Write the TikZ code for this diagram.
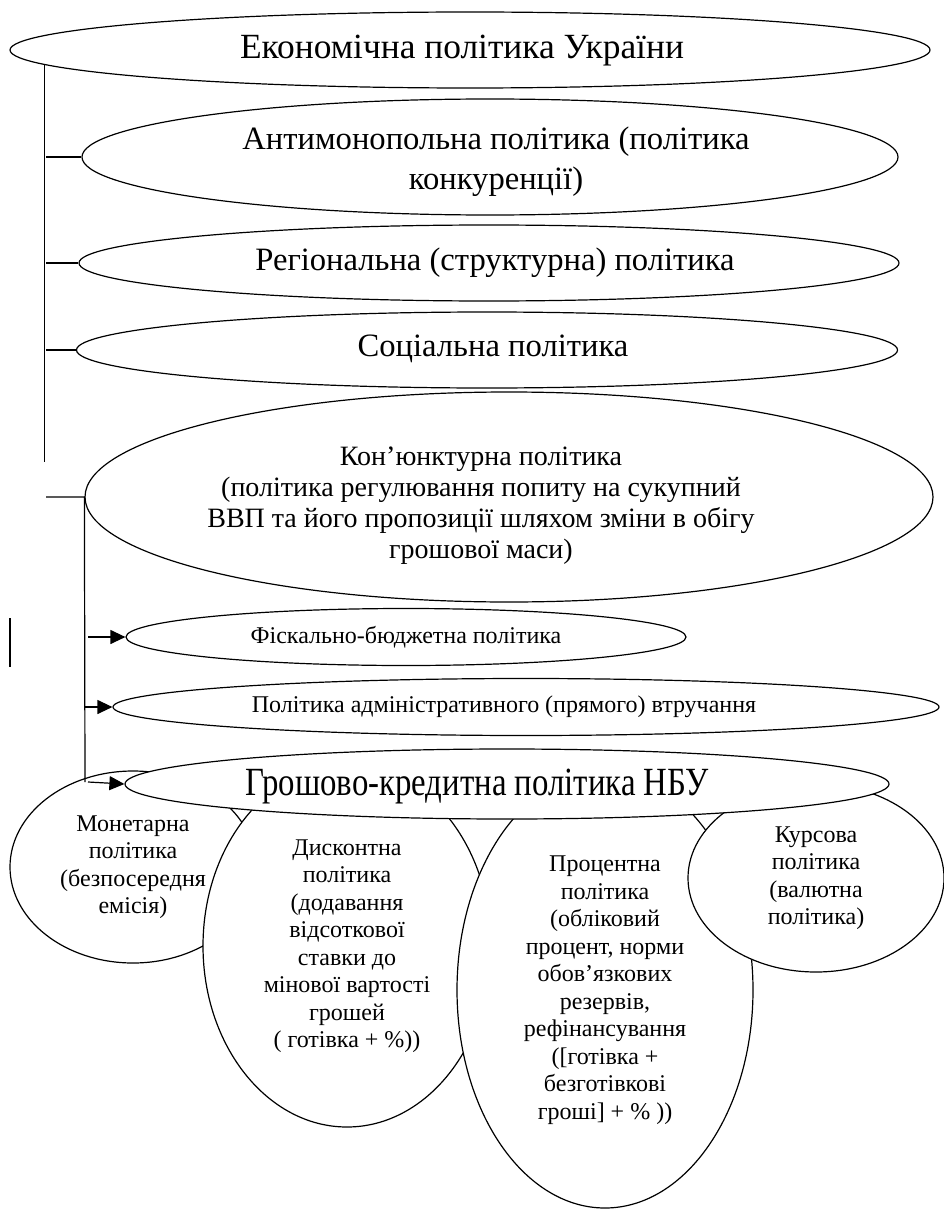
\documentclass[tikz,border=0pt]{standalone}
\usepackage{fontspec}
\setmainfont{Liberation Serif}
\newfontfamily\narrowserif{Liberation Serif}[FakeStretch=0.82]
\usetikzlibrary{shapes.geometric,arrows.meta}

\tikzset{
	oval/.style={ellipse, draw, fill=white, line width=1.2pt, inner sep=0pt, align=center},
	txt/.style={inner sep=0pt, align=center},
	stem/.style={line width=1.2pt},
	arr/.style={line width=1.2pt, -{Triangle[length=15pt,width=14pt]}},
	big/.style={font=\fontsize{32.6}{40}\selectfont},
	mid/.style={font=\fontsize{28}{31}\selectfont},
	small/.style={font=\fontsize{24}{27.5}\selectfont}
}

\begin{document}
\begin{tikzpicture}[x=1pt,y=-1pt]
		\useasboundingbox (0,0) rectangle (944,1209);

		% Punkte
		\coordinate (t1) at (46,462);
		\coordinate (t2) at (85,782);

		% Ellipsen
		\node[oval, minimum width=920pt, minimum height=76pt] (econ) at (470,50) {};
		\node[txt, font=\fontsize{35.4}{40}\selectfont] (econtext) at (462,51) {Економічна політика України};
		\node[oval, minimum width=816pt, minimum height=116pt] (anti) at (490,157) {};
		\node[txt, big] (antitext) at (496,162) {Антимонопольна політика (політика\\конкуренції)};
		\node[oval, minimum width=820pt, minimum height=76pt] (region) at (489,263) {};
		\node[txt, big] (regiontext) at (495,263) {Регіональна (структурна) політика};
		\node[oval, minimum width=821pt, minimum height=76pt] (social) at (487,350) {};
		\node[txt, big] (socialtext) at (493,349) {Соціальна політика};
		\node[oval, minimum width=848pt, minimum height=210pt] (kon) at (509,497) {};
		\node[txt, mid] (kontext) at (481,506) {Кон’юнктурна політика\\(політика регулювання попиту на сукупний\\ВВП та його пропозиції шляхом зміни в обігу\\грошової маси)};
		\node[oval, small, minimum width=560pt, minimum height=57pt] (fisk) at (406,637) {Фіскально-бюджетна політика};
		\node[oval, minimum width=826pt, minimum height=57pt] (admin) at (526,707) {};
		\node[txt, small] (admintext) at (504,707) {Політика адміністративного (прямого) втручання};

		% Methoden
		\node[oval, small, minimum width=246pt, minimum height=192pt] (monet) at (133,867) {Монетарна\\політика\\(безпосередня\\емісія)};
		\node[oval, small, minimum width=288pt, minimum height=362pt] (disc) at (347,946) {Дисконтна\\політика\\(додавання\\відсоткової\\ставки до\\мінової вартості\\грошей\\( готівка + \%))};
		\node[oval, small, minimum width=296pt, minimum height=436pt] (perc) at (605,990) {Процентна\\політика\\(обліковий\\процент, норми\\обов’язкових\\резервів,\\рефінансування\\([готівка +\\безготівкові\\гроші] + \% ))};
		\node[oval, small, minimum width=256pt, minimum height=188pt] (kurs) at (816,878) {Курсова\\політика\\(валютна\\політика)};
		\node[oval, minimum width=764pt, minimum height=70pt] (nbu) at (507,784) {};
		\node[txt, font=\narrowserif\fontsize{40}{44}\selectfont] (nbutext) at (477,787) {Грошово-кредитна політика НБУ};

		% Linien
		\draw[stem] (econ.182) -- (econ.182 |- t1);
		\draw[stem] (anti.west -| t1) -- (anti.west);
		\draw[stem] (region.west -| t1) -- (region.west);
		\draw[stem] (social.west -| t1) -- (social.west);
		\draw[stem] (kon.west -| t1) -- (kon.west) -- (t2);
		\draw[stem] (10,618) -- (10,667);

		% Pfeile
		\draw[arr] ([xshift=3pt]fisk.west -| t2) -- (fisk.west);
		\draw[arr] (admin.west -| t2) -- (admin.west);
		\draw[arr] ([xshift=3pt]t2) -- (nbu.west);
	\end{tikzpicture}
\end{document}
